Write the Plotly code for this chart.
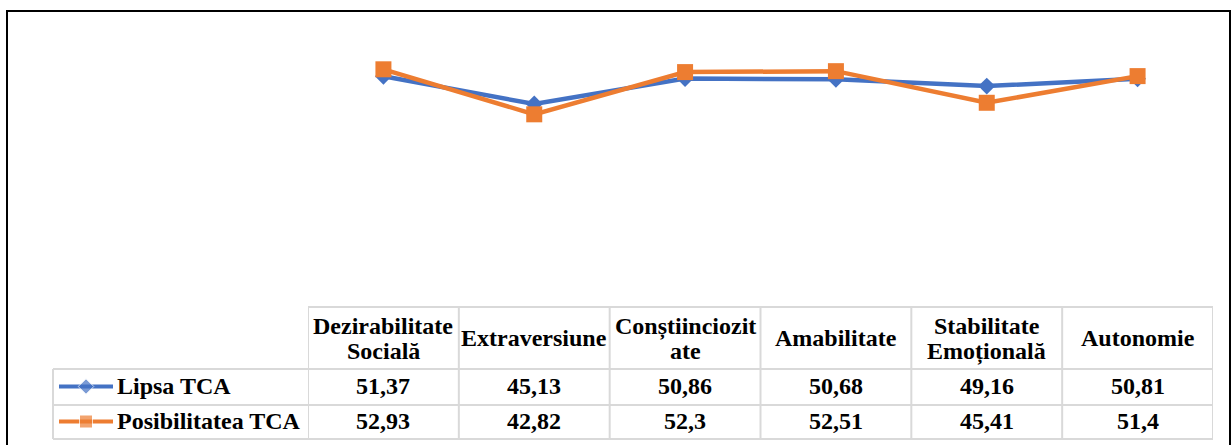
import plotly.graph_objects as go

# ===========================
# DATA
# ===========================

categories = ["Dezirabilitate Socială", "Extraversiune", "Conștiinciozitate",
              "Amabilitate", "Stabilitate Emoțională", "Autonomie"]
header_lines = [["Dezirabilitate", "Socială"], ["Extraversiune"], ["Conștiinciozit", "ate"],
                ["Amabilitate"], ["Stabilitate", "Emoțională"], ["Autonomie"]]
series_names = ["Lipsa TCA", "Posibilitatea TCA"]
lipsa_tca = [51.37, 45.13, 50.86, 50.68, 49.16, 50.81]
posibilitatea_tca = [52.93, 42.82, 52.3, 52.51, 45.41, 51.4]

# ===========================
# STYLE
# ===========================

W, H = 1232, 445
BLUE = "#4472C4"
ORANGE = "#ED7D31"
GRID = "#D9D9D9"
FONT = dict(family="Liberation Serif", size=24, color="#000000")


def px_x(p):
    return p / W


def px_y(p):
    return 1 - p / H


series = [
    (series_names[0], lipsa_tca, BLUE, "diamond", 13, 12),
    (series_names[1], posibilitatea_tca, ORANGE, "square", 16, 13),
]

fig = go.Figure()

for name, vals, col, sym, size, _ in series:
    fig.add_trace(go.Scatter(
        x=categories, y=vals, name=name, mode="lines+markers",
        line=dict(color=col, width=4.5),
        marker=dict(symbol=sym, size=size, color=col),
        cliponaxis=False, showlegend=False, hoverinfo="skip",
    ))

# legend keys drawn inside the data table (own small axes)
row_y = [1.5, 0.5]
for (name, vals, col, sym, _, ksize), ry in zip(series, row_y):
    fig.add_trace(go.Scatter(
        x=[0, 1, 2], y=[ry] * 3, mode="lines+markers",
        line=dict(color=col, width=4),
        marker=dict(symbol=sym, size=[0, ksize, 0], color=col),
        xaxis="x2", yaxis="y2", showlegend=False, hoverinfo="skip", cliponaxis=False,
    ))

# ===========================
# TABLE GRID
# ===========================

shapes = []
line = dict(color=GRID, width=2)
shapes.append(dict(type="line", xref="paper", yref="paper",
                   x0=px_x(308), x1=px_x(1213), y0=px_y(307), y1=px_y(307), line=line))
for yy in (369, 405, 439):
    shapes.append(dict(type="line", xref="paper", yref="paper",
                       x0=px_x(53), x1=px_x(1213), y0=px_y(yy), y1=px_y(yy), line=line))
for i in range(len(categories) + 1):
    shapes.append(dict(type="line", xref="x", yref="paper",
                       x0=i - 0.5, x1=i - 0.5, y0=px_y(307), y1=px_y(439), line=line))
shapes.append(dict(type="line", xref="paper", yref="paper",
                   x0=px_x(53), x1=px_x(53), y0=px_y(369), y1=px_y(439), line=line))
# outer chart border (bottom edge lies below the visible area)
shapes.append(dict(type="rect", xref="paper", yref="paper",
                   x0=px_x(7), x1=px_x(1230), y0=px_y(11), y1=px_y(470),
                   line=dict(color="#000000", width=2)))

# ===========================
# TABLE TEXT
# ===========================

annotations = []
for cat, lines in zip(categories, header_lines):
    centers = [338] if len(lines) == 1 else [326, 351]
    for txt, cy in zip(lines, centers):
        annotations.append(dict(x=cat, xref="x", y=px_y(cy), yref="paper",
                                text=f"<b>{txt}</b>", showarrow=False,
                                xanchor="center", yanchor="middle", font=FONT))

for vals, cy in zip([lipsa_tca, posibilitatea_tca], [386, 421]):
    for cat, v in zip(categories, vals):
        annotations.append(dict(x=cat, xref="x", y=px_y(cy), yref="paper",
                                text="<b>" + str(v).replace(".", ",") + "</b>",
                                showarrow=False, xanchor="center", yanchor="middle",
                                font=FONT))

for name, cy in zip(series_names, [386, 421]):
    annotations.append(dict(x=px_x(115), xref="paper", y=px_y(cy), yref="paper",
                            text=f"<b>{name}</b>", showarrow=False,
                            xanchor="left", yanchor="middle", font=FONT))

fig.update_layout(
    width=W, height=H,
    margin=dict(l=0, r=0, t=0, b=0),
    paper_bgcolor="#ffffff", plot_bgcolor="#ffffff",
    xaxis=dict(domain=[px_x(308), px_x(1213)], range=[-0.5, 5.5],
               visible=False, type="category", fixedrange=True),
    yaxis=dict(domain=[px_y(305), px_y(20)], range=[0, 64],
               visible=False, fixedrange=True),
    xaxis2=dict(domain=[px_x(59), px_x(113)], range=[0, 2], visible=False,
                anchor="y2", fixedrange=True),
    yaxis2=dict(domain=[px_y(439), px_y(369)], range=[0, 2], visible=False,
                anchor="x2", fixedrange=True),
    shapes=shapes,
    annotations=annotations,
    showlegend=False,
)

# drop the page's default body margin so the figure sits at the window corner
fig.write_html("out.html", config={"displayModeBar": False},
               post_script="document.body.style.margin='0';")
